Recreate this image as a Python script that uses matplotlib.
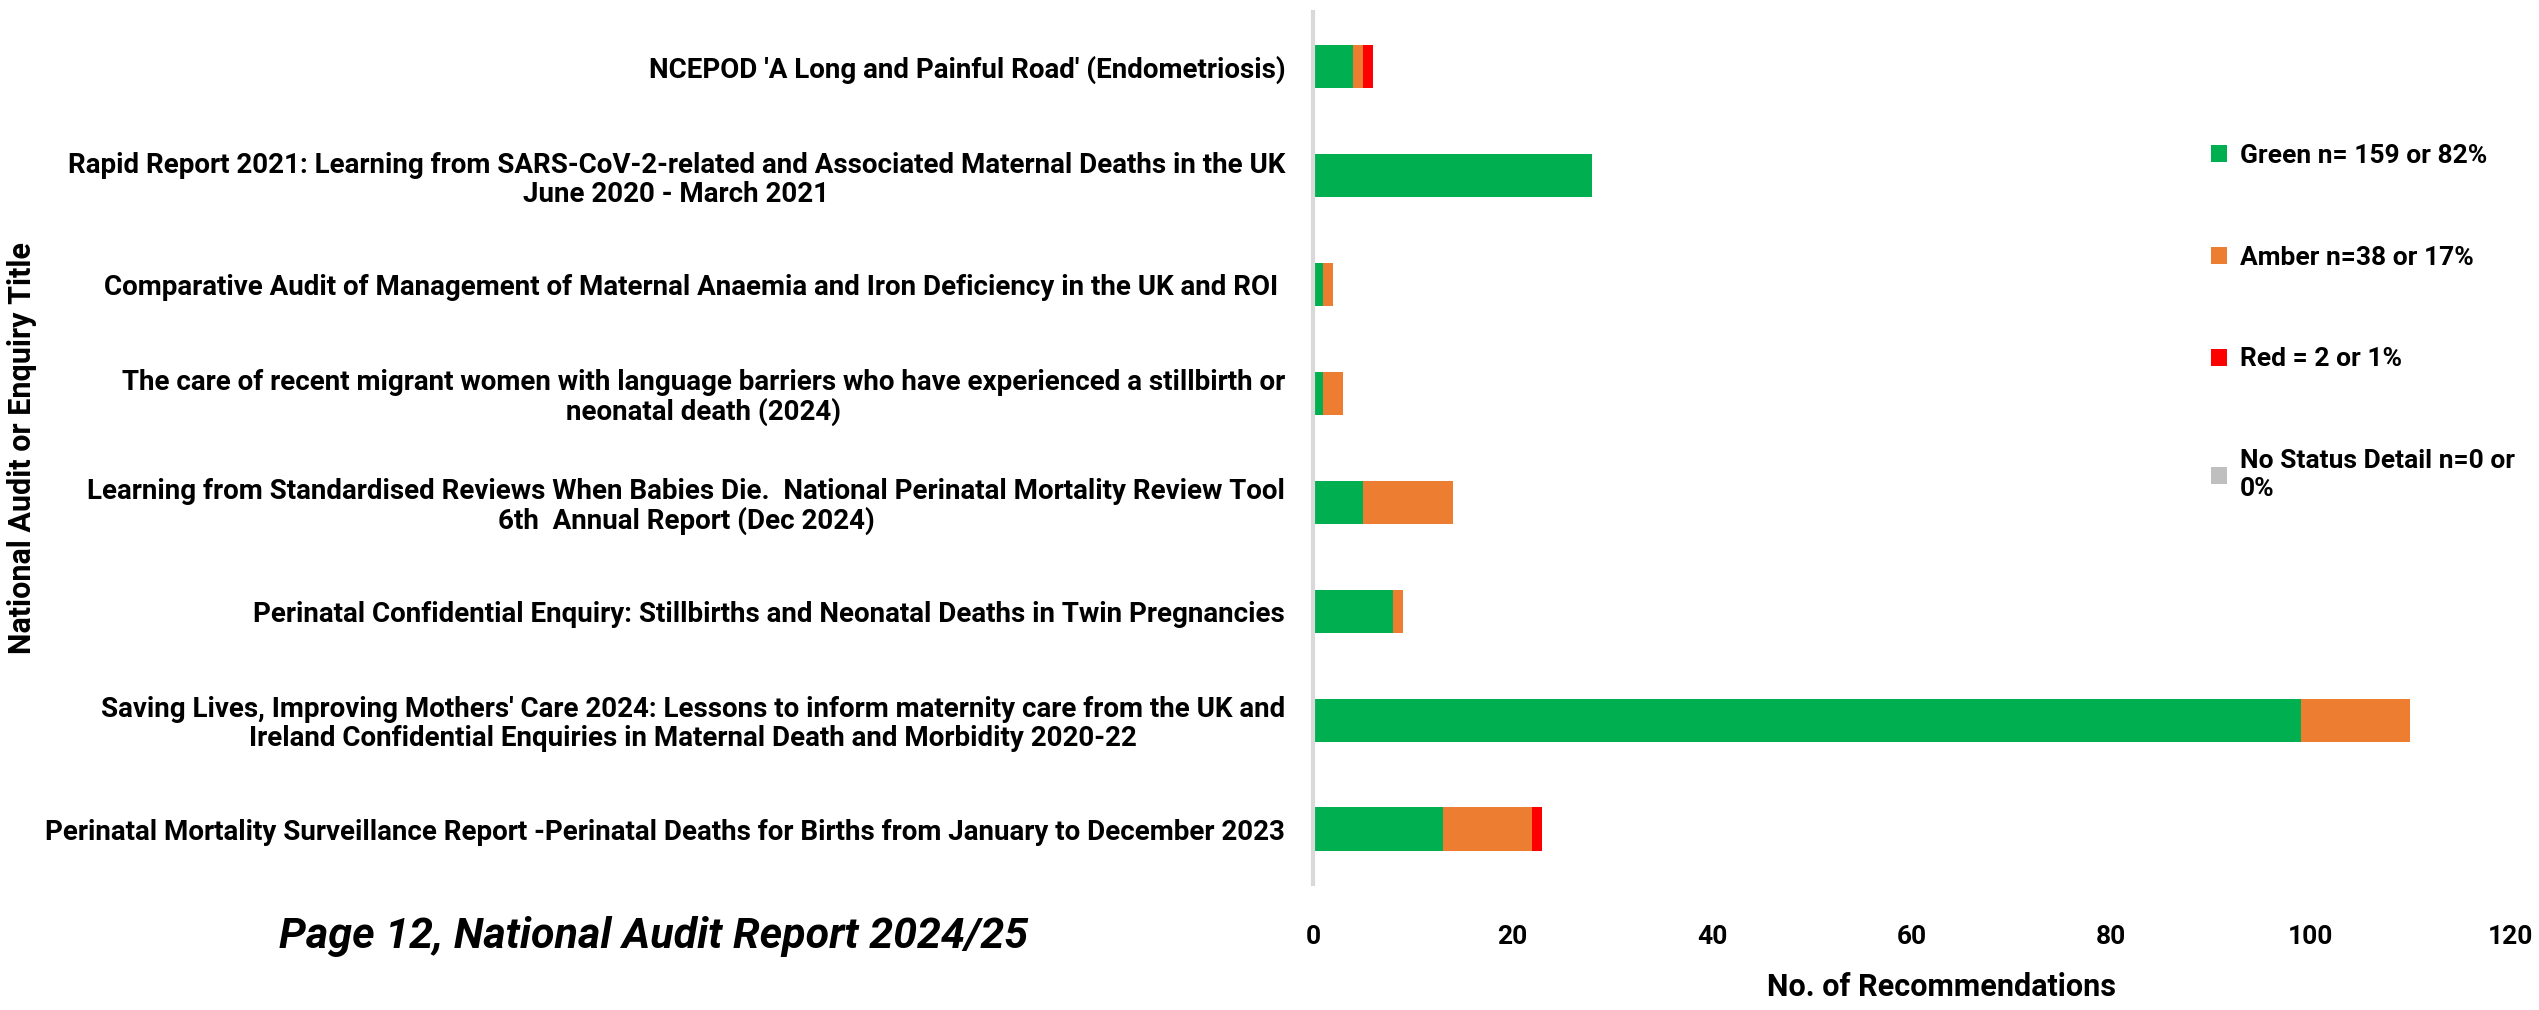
import matplotlib

matplotlib.use("Agg")
import matplotlib.pyplot as plt
from matplotlib.patches import Patch

FONT = ["Roboto", "DejaVu Sans"]
GREEN = "#00B050"
AMBER = "#ED7D31"
RED = "#FF0000"
GREY = "#BFBFBF"

titles = [
    "NCEPOD 'A Long and Painful Road' (Endometriosis)",
    "Rapid Report 2021: Learning from SARS-CoV-2-related and Associated Maternal Deaths in the UK\nJune 2020 - March 2021",
    "Comparative Audit of Management of Maternal Anaemia and Iron Deficiency in the UK and ROI ",
    "The care of recent migrant women with language barriers who have experienced a stillbirth or\nneonatal death (2024)",
    "Learning from Standardised Reviews When Babies Die.  National Perinatal Mortality Review Tool\n6th  Annual Report (Dec 2024)",
    "Perinatal Confidential Enquiry: Stillbirths and Neonatal Deaths in Twin Pregnancies",
    "Saving Lives, Improving Mothers' Care 2024: Lessons to inform maternity care from the UK and\nIreland Confidential Enquiries in Maternal Death and Morbidity 2020-22",
    "Perinatal Mortality Surveillance Report -Perinatal Deaths for Births from January to December 2023",
]
green = [4, 28, 1, 1, 5, 8, 99, 13]
amber = [1, 0, 1, 2, 9, 1, 11, 9]
red = [1, 0, 0, 0, 0, 0, 0, 1]
no_status = [0, 0, 0, 0, 0, 0, 0, 0]

legend_labels = [
    "Green n= 159 or 82%",
    "Amber n=38 or 17%",
    "Red = 2 or 1%",
    "No Status Detail n=0 or\n0%",
]
xticks = [0, 20, 40, 60, 80, 100, 120]

fig = plt.figure(figsize=(25.39, 10.10), dpi=100)
ax = fig.add_axes([0.5171, 0.125, 0.4715, 0.863])

y = list(range(len(titles)))
h = 0.4
left = [0] * len(titles)
for vals, col in [(green, GREEN), (amber, AMBER), (red, RED), (no_status, GREY)]:
    ax.barh(y, vals, height=h, left=left, color=col, edgecolor="none")
    left = [a + b for a, b in zip(left, vals)]

ax.set_ylim(len(titles) - 0.5, -0.5)
ax.set_xlim(0, 120)
ax.set_yticks(y)
ax.set_yticklabels(titles, family=FONT, fontsize=20, fontweight="bold",
                   multialignment="center", linespacing=1.1)
ax.set_xticks(xticks)
ax.set_xticklabels([str(t) for t in xticks], family=FONT, fontsize=19,
                   fontweight="bold")
ax.tick_params(axis="both", length=0)
ax.tick_params(axis="y", pad=20)
ax.tick_params(axis="x", pad=30)

for s in ["top", "right", "bottom"]:
    ax.spines[s].set_visible(False)
ax.spines["left"].set_color("#d9d9d9")
ax.spines["left"].set_linewidth(3)

ax.set_xlabel("No. of Recommendations", family=FONT, fontsize=22,
              fontweight="bold")
ax.xaxis.set_label_coords(0.525, -0.101)
ax.set_ylabel("National Audit or Enquiry Title", family=FONT, fontsize=22,
              fontweight="bold")
ax.yaxis.set_label_coords(-1.066, 0.5)

handles = [Patch(facecolor=c, edgecolor="none") for c in [GREEN, AMBER, RED, GREY]]
ax.legend(handles, legend_labels, loc="upper left", bbox_to_anchor=(0.75, 0.849),
          frameon=False, prop={"family": FONT, "size": 19, "weight": "bold"},
          handlelength=0.6, handleheight=0.6, handletextpad=0.5,
          labelspacing=2.95, borderpad=0, borderaxespad=0)

fig.text(0.110, 0.073, "Page 12, National Audit Report 2024/25", family=FONT,
         fontsize=31, fontweight="bold", style="italic", ha="left", va="center")

fig.savefig("out.png", dpi=100)
